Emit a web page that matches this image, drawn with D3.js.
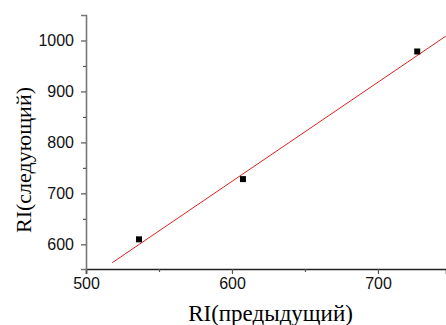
<!DOCTYPE html>
<html>
<head>
<meta charset="utf-8">
<script src="https://cdn.jsdelivr.net/npm/d3@7"></script>
<style>
  body { margin: 0; background: #fff; }
</style>
</head>
<body>
<svg id="chart"></svg>
<script>
// точки
var riPrev = [536.3, 607.5, 726.9];
var riNext = [609.8, 728, 978.4];
// линия аппроксимации (концы)
var fitX = [518, 746.4];
var fitY = [564, 1008.4];
// деления
var xTicks = [500, 600, 700];
var xMinor = [550, 650];
var yTicks = [600, 700, 800, 900, 1000];
var yMinor = [650, 750, 850, 950];

var drawChart = function(){
    var width = 446, height = 325;
    var left = 86, right = 446, top = 15, bottom = 269;
    var svg = d3.select("#chart").attr("width", width).attr("height", height);

    var x = d3.scaleLinear().domain([500, 746.6]).range([left, right]);
    var y = d3.scaleLinear().domain([551.6, 1050]).range([bottom, top]);

    // ось X
    var gx = svg.append("g").attr("transform", "translate(0," + bottom + ")");
    gx.call(d3.axisBottom(x).tickValues(xTicks).tickSize(5).tickPadding(4).tickFormat(d3.format("d")));
    gx.append("g").call(d3.axisBottom(x).tickValues(xMinor).tickSize(3).tickFormat(""))
        .select(".domain").remove();
    gx.select(".domain").attr("stroke", "#222");
    // ось Y
    var gy = svg.append("g").attr("transform", "translate(" + left + ",0)");
    gy.call(d3.axisLeft(y).tickValues(yTicks).tickSize(5).tickPadding(7).tickFormat(d3.format("d")));
    gy.append("g").call(d3.axisLeft(y).tickValues(yMinor).tickSize(3).tickFormat(""))
        .select(".domain").remove();
    gy.select(".domain").attr("stroke", "#777");

    svg.selectAll(".domain").attr("stroke-width", 1.6);
    svg.selectAll(".tick line").attr("stroke", "#555").attr("stroke-width", 1.2);
    svg.selectAll(".tick text")
        .style("font-family", "'Liberation Sans', Arial, sans-serif")
        .style("font-size", "16px")
        .attr("fill", "#111");

    // подписи осей
    svg.append("text")
        .attr("x", 270.5)
        .attr("y", 321)
        .attr("text-anchor", "middle")
        .style("font-family", "'Liberation Serif', 'Times New Roman', serif")
        .style("font-size", "23px")
        .text("RI(предыдущий)");
    svg.append("text")
        .attr("transform", "translate(31," + 160 + ") rotate(-90)")
        .attr("text-anchor", "middle")
        .style("font-family", "'Liberation Serif', 'Times New Roman', serif")
        .style("font-size", "22px")
        .text("RI(следующий)");

    // линия
    svg.append("line")
        .attr("x1", x(fitX[0])).attr("y1", y(fitY[0]))
        .attr("x2", x(fitX[1])).attr("y2", y(fitY[1]))
        .attr("stroke", "#e02020").attr("stroke-width", 1);

    // точки
    svg.selectAll(".pt")
        .data(riPrev)
        .enter()
        .append("rect")
        .attr("class", "pt")
        .attr("x", function(d){ return x(d) - 3; })
        .attr("y", function(d, i){ return y(riNext[i]) - 3; })
        .attr("width", 6).attr("height", 6)
        .attr("fill", "#000");
}

var main = function(){
    drawChart();
}();
</script>
</body>
</html>
